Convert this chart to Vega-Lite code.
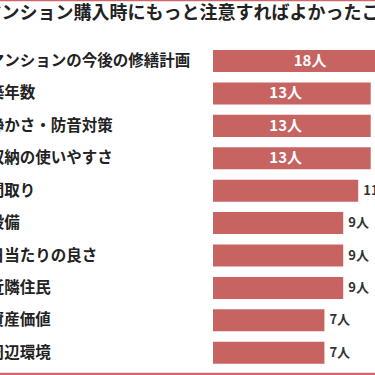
{
  "$schema": "https://vega.github.io/schema/vega-lite/v6.json",
  "autosize": {"type": "none"},
  "width": 425,
  "height": 374,
  "padding": {"left": -22, "right": -28, "top": 0, "bottom": 1},
  "background": "white",
  "config": {
    "view": {"stroke": "#cf6868", "strokeWidth": 2.5},
    "font": "Noto Sans CJK JP"
  },
  "title": {
    "text": "マンション購入時にもっと注意すればよかったこと",
    "fontSize": 18,
    "fontWeight": "bold",
    "font": "Noto Sans CJK JP",
    "color": "#222222",
    "frame": "group",
    "anchor": "middle",
    "orient": "top",
    "offset": -32,
    "baseline": "middle"
  },
  "data": {
    "values": [
      {"item": "マンションの今後の修繕計画", "count": 18},
      {"item": "築年数", "count": 13},
      {"item": "静かさ・防音対策", "count": 13},
      {"item": "収納の使いやすさ", "count": 13},
      {"item": "間取り", "count": 11},
      {"item": "設備", "count": 9},
      {"item": "日当たりの良さ", "count": 9},
      {"item": "近隣住民", "count": 9},
      {"item": "資産価値", "count": 7},
      {"item": "周辺環境", "count": 7}
    ]
  },
  "encoding": {
    "y": {
      "field": "item",
      "type": "nominal",
      "sort": null,
      "axis": null,
      "scale": {"paddingInner": 0.32, "paddingOuter": 0.93, "align": 0.83}
    }
  },
  "layer": [
    {
      "mark": {"type": "bar", "color": "#c76462", "clip": true},
      "encoding": {
        "x": {
          "field": "count",
          "type": "quantitative",
          "scale": {"type": "log", "domain": [0.068, 20.025], "nice": false, "zero": false},
          "axis": null
        },
        "x2": {"datum": 1.577}
      }
    },
    {
      "mark": {"type": "text", "align": "left", "baseline": "middle", "fontSize": 15.5, "fontWeight": "bold", "color": "#222222"},
      "encoding": {
        "x": {"datum": 0.0785, "type": "quantitative"},
        "text": {"field": "item"}
      }
    },
    {
      "transform": [{"filter": "datum.count >= 12"}],
      "mark": {"type": "text", "align": "center", "baseline": "middle", "dx": -85, "fontSize": 15, "fontWeight": "bold", "color": "white", "text": {"expr": "datum.count + '人'"}},
      "encoding": {
        "x": {"field": "count", "type": "quantitative"}
      }
    },
    {
      "transform": [{"filter": "datum.count < 12"}],
      "mark": {"type": "text", "align": "left", "baseline": "middle", "dx": 5, "fontSize": 13, "fontWeight": "bold", "color": "#333333", "text": {"expr": "datum.count + '人'"}},
      "encoding": {
        "x": {"field": "count", "type": "quantitative"}
      }
    }
  ]
}
